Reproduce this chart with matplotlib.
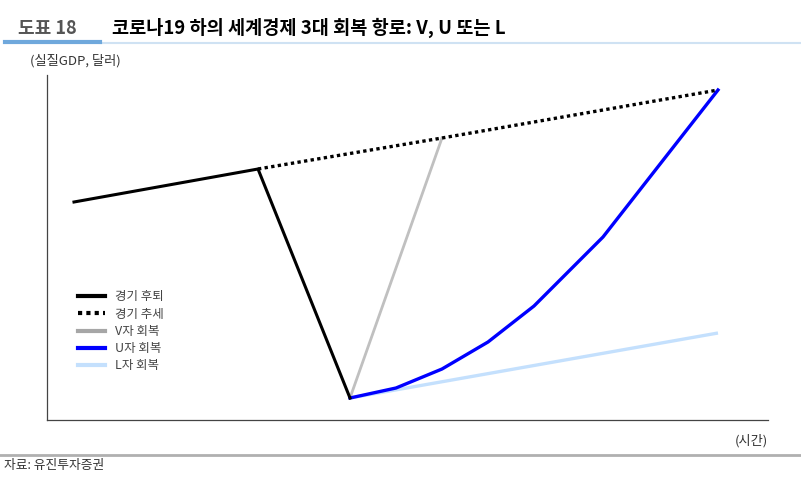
import numpy as np
import matplotlib.pyplot as plt
from matplotlib.lines import Line2D

plt.rcParams['font.family'] = ['Noto Sans CJK KR', 'DejaVu Sans']

# time axis (arbitrary units) and real GDP level (arbitrary units)
recession_x = [0, 4, 6]
recession_y = [218, 251, 22]
trend_x = [4, 8, 14]
trend_y = [251, 282, 330]
v_x = [6, 8]
v_y = [22, 282]
u_x = [6, 7, 8, 9, 10, 11.5, 14]
u_y = [22, 32, 51, 78, 114, 183, 330]
l_x = [6, 14]
l_y = [22, 87]

labels = ['경기 후퇴', '경기 추세', 'V자 회복', 'U자 회복', 'L자 회복']

fig = plt.figure(figsize=(8.01, 4.78), dpi=100)
ax = fig.add_axes([47/801, 58/478, 721/801, 345/478])

ax.plot(l_x, l_y, color='#c4e0fd', lw=2.4, solid_capstyle='butt')
ax.plot(v_x, v_y, color='#c0c0c0', lw=2.0)
ax.plot(u_x, u_y, color='#0000ff', lw=2.4)
ax.plot(trend_x, trend_y, color='black', lw=2.4, linestyle=(0, (1, 1)))
ax.plot(recession_x, recession_y, color='black', lw=2.2)

ax.set_xlim(-27/46, 694/46)
ax.set_ylim(0, 345)
ax.set_xticks([])
ax.set_yticks([])
for s in ['top', 'right']:
    ax.spines[s].set_visible(False)
for s in ['left', 'bottom']:
    ax.spines[s].set_color('#444444')
    ax.spines[s].set_linewidth(0.9)

handles = [
    Line2D([], [], color='black', lw=3),
    Line2D([], [], color='black', lw=3, linestyle=(0, (1, 1))),
    Line2D([], [], color='#a6a6a6', lw=3),
    Line2D([], [], color='#0000ff', lw=3),
    Line2D([], [], color='#c4e0fd', lw=3),
]
leg = ax.legend(handles, labels, loc='upper left', bbox_to_anchor=(0.028, 0.408),
                frameon=False, fontsize=9, handlelength=2.15, handletextpad=0.8,
                labelspacing=0.34)
for t in leg.get_texts():
    t.set_color('#444444')

# header
fig.text(18/801, 1 - 28/478, '도표 18', fontsize=13, color='#555555',
         fontweight='bold', va='center')
fig.text(112/801, 1 - 28/478, '코로나19 하의 세계경제 3대 회복 항로: V, U 또는 L',
         fontsize=13.4, color='black', fontweight='bold', va='center')
fig.add_artist(Line2D([100/801, 1], [1 - 43/478] * 2, color='#cfe2f3', lw=1.5))
fig.add_artist(Line2D([5/801, 100/801], [1 - 42/478] * 2, color='#6fa8dc', lw=3))

fig.text(30/801, 1 - 61/478, '(실질GDP, 달러)', fontsize=9.5, color='#333333', va='center')
fig.text(768/801, 1 - 441/478, '(시간)', fontsize=9.5, color='#333333', va='center', ha='right')
fig.add_artist(Line2D([0, 1], [1 - 455/478] * 2, color='#b0b0b0', lw=2))
fig.text(4/801, 1 - 465/478, '자료: 유진투자증권', fontsize=9.2, color='#333333', va='center')

fig.savefig('out.png', dpi=100)
